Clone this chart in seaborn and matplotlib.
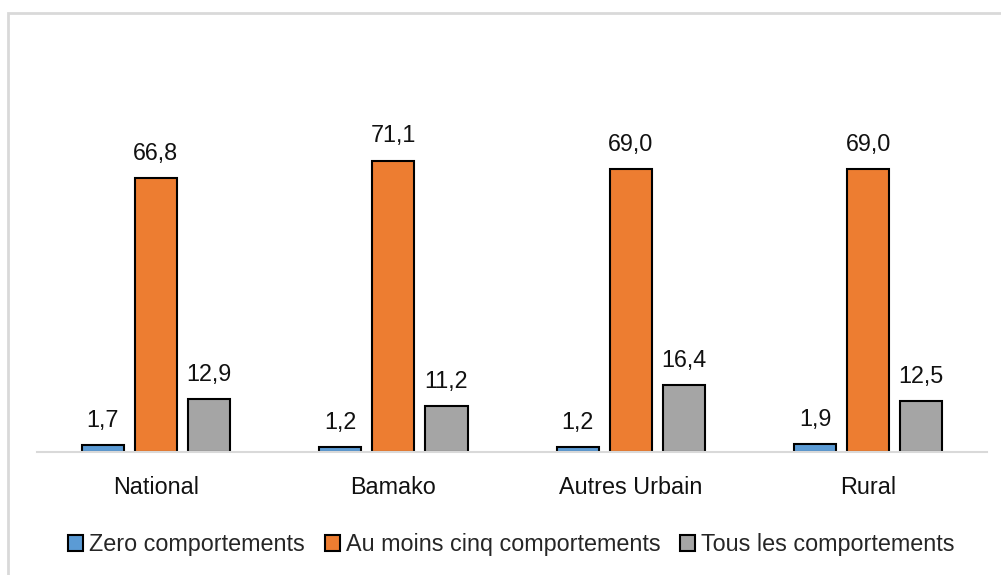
import pandas as pd
import seaborn as sns
import matplotlib.pyplot as plt
import matplotlib.patches as mpatches

categories = ['National', 'Bamako', 'Autres Urbain', 'Rural']
series = ['Zero comportements', 'Au moins cinq comportements', 'Tous les comportements']
zero = [1.7, 1.2, 1.2, 1.9]
cinq = [66.8, 71.1, 69.0, 69.0]
tous = [12.9, 11.2, 16.4, 12.5]
colors = ['#5B9BD5', '#ED7D31', '#A5A5A5']

df = pd.DataFrame({
    'cat': categories * 3,
    'serie': [series[0]] * 4 + [series[1]] * 4 + [series[2]] * 4,
    'val': zero + cinq + tous,
})

sns.set_theme(style='white')
plt.rcParams['font.family'] = ['Liberation Sans', 'DejaVu Sans']
fs = 16.8

fig = plt.figure(figsize=(10.01, 5.75), dpi=100)
ax = fig.add_axes([0.037, 0.2139, 0.949, 0.5704])

sns.barplot(data=df, x='cat', y='val', hue='serie', order=categories,
            hue_order=series, palette=colors, width=0.67, gap=0.2,
            edgecolor='black', linewidth=1.5, saturation=1, ax=ax, legend=False)

for cont in ax.containers:
    ax.bar_label(cont, labels=[('%.1f' % v.get_height()).replace('.', ',') for v in cont],
                 padding=9.5, fontsize=fs, color='#111111')

ax.set_ylim(0, 80)
ax.set_xlim(-0.5, 3.5)
ax.set_xlabel('')
ax.set_ylabel('')
ax.set_yticks([])
for s in ['top', 'right', 'left']:
    ax.spines[s].set_visible(False)
ax.spines['bottom'].set_color('#D9D9D9')
ax.spines['bottom'].set_linewidth(1.5)
ax.tick_params(axis='x', length=0, pad=17, labelsize=fs, labelcolor='#111111')

handles = [mpatches.Patch(facecolor=c, edgecolor='black', linewidth=1.5, label=l)
           for c, l in zip(colors, series)]
fig.legend(handles=handles, loc='center', bbox_to_anchor=(0.511, 0.053), ncol=3,
           frameon=False, fontsize=fs, handlelength=0.65, handleheight=0.65,
           handletextpad=0.25, columnspacing=0.85)

# cadre gris autour du graphique
fig.add_artist(mpatches.Rectangle((0.0075, -0.05), 1.05, 1.027, transform=fig.transFigure,
                                  fill=False, edgecolor='#D9D9D9', linewidth=2))

fig.savefig('out.png', dpi=100)
